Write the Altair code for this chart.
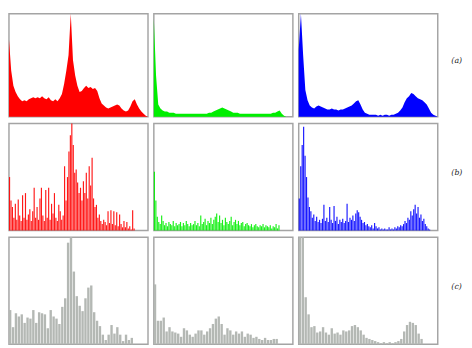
import altair as alt
import pandas as pd

# Row (a): smooth channel histograms (64 bins, % of panel height)
red_a = [75, 45, 30, 24, 20, 17, 15, 16, 15, 17, 18, 19, 18, 19, 18, 20,
         18, 17, 19, 16, 15, 17, 15, 18, 22, 32, 45, 60, 100, 55, 40, 30,
         24, 25, 28, 30, 28, 29, 27, 28, 25, 18, 13, 11, 9, 8, 9, 10,
         11, 12, 11, 8, 6, 5, 6, 10, 15, 17, 12, 8, 5, 3, 1, 0]
green_a = [95, 40, 12, 8, 6, 5, 5, 4, 4, 4, 3, 3, 3, 3, 3, 3,
           3, 3, 3, 3, 3, 3, 3, 3, 3, 4, 4, 5, 6, 7, 8, 9,
           8, 7, 6, 5, 4, 4, 4, 3, 3, 3, 3, 3, 3, 3, 3, 3,
           3, 3, 3, 3, 3, 3, 4, 4, 5, 6, 3, 1, 0, 0, 0, 0]
blue_a = [65, 100, 60, 26, 16, 11, 9, 8, 10, 11, 10, 9, 8, 7, 7, 8,
          7, 7, 6, 7, 7, 8, 9, 10, 11, 13, 15, 16, 12, 7, 4, 3,
          2, 2, 2, 2, 1, 2, 1, 2, 2, 1, 2, 2, 3, 4, 6, 9,
          14, 18, 20, 23, 22, 20, 18, 17, 16, 14, 12, 8, 4, 2, 1, 0]

# Row (b): spiky histograms (96 bins)
red_b = [50, 28, 22, 12, 25, 10, 29, 14, 9, 33,
         12, 35, 10, 15, 20, 9, 18, 40, 12, 22,
         10, 30, 40, 14, 9, 38, 12, 40, 10, 25,
         16, 35, 12, 9, 24, 18, 10, 14, 60, 28,
         50, 74, 89, 100, 80, 54, 57, 45, 35, 40,
         28, 46, 35, 54, 30, 60, 42, 68, 30, 22,
         24, 12, 15, 9, 6, 10, 8, 5, 18, 7,
         19, 6, 18, 5, 17, 4, 15, 6, 3, 9,
         3, 8, 2, 4, 1, 19, 2, 0, 0, 0,
         0, 0, 0, 0, 0, 0]
green_b = [55, 28, 13, 8, 6, 14, 9, 5, 7, 4,
           8, 6, 5, 9, 4, 7, 5, 6, 8, 4,
           7, 5, 9, 6, 4, 7, 5, 6, 9, 5,
           7, 4, 14, 6, 8, 11, 5, 9, 7, 12,
           6, 10, 13, 16, 8, 14, 7, 10, 5, 12,
           8, 6, 9, 13, 5, 8, 10, 6, 9, 5,
           7, 8, 4, 6, 7, 5, 4, 6, 3, 5,
           6, 4, 3, 5, 4, 6, 3, 5, 4, 3,
           5, 2, 4, 3, 6, 2, 5, 0, 0, 0,
           0, 0, 0, 0, 0, 0]
blue_b = [30, 60, 80, 97, 70, 50, 31, 22, 18, 12,
          15, 9, 13, 8, 10, 7, 11, 24, 9, 12,
          8, 22, 10, 7, 23, 9, 13, 6, 10, 8,
          11, 7, 9, 25, 8, 12, 10, 14, 9, 16,
          19, 17, 13, 10, 7, 8, 5, 6, 4, 3,
          5, 2, 7, 4, 2, 3, 1, 2, 1, 2,
          1, 1, 3, 1, 2, 1, 3, 2, 4, 3,
          5, 4, 6, 9, 7, 12, 10, 18, 14, 20,
          24, 16, 22, 12, 15, 9, 11, 6, 4, 2,
          1, 0, 0, 0, 0, 0]

# Row (c): coarse grey histograms (48 bins)
red_c = [32, 16, 29, 26, 28, 20, 25, 24, 32, 20, 30, 29, 28, 15, 32, 26,
         24, 19, 35, 43, 95, 100, 68, 45, 36, 31, 43, 53, 55, 30, 22, 17,
         9, 4, 9, 18, 10, 16, 9, 3, 9, 4, 6, 0, 0, 0, 0, 0]
green_c = [56, 22, 22, 25, 12, 16, 12, 11, 10, 7, 15, 13, 9, 7, 10, 13,
           13, 9, 12, 15, 19, 24, 26, 19, 9, 15, 13, 9, 12, 10, 12, 7,
           10, 9, 6, 7, 5, 4, 6, 4, 4, 5, 5, 0, 0, 0, 0, 0]
blue_c = [100, 100, 44, 28, 16, 17, 11, 12, 16, 11, 9, 15, 10, 11, 9, 13,
          12, 13, 17, 18, 16, 13, 9, 6, 5, 4, 3, 2, 1, 2, 1, 2,
          1, 2, 3, 5, 12, 18, 21, 20, 18, 10, 5, 0, 0, 0, 0, 0]

row_labels = ["(a)", "(b)", "(c)"]
colors = ["#ff0000", "#00ee00", "#0000ff"]
grey = "#b4b8b4"

W = 143
HEIGHTS = [106, 110, 110]


def df(vals):
    return pd.DataFrame({"i": list(range(len(vals))), "v": vals})


def panel_a(vals, color):
    return alt.Chart(df(vals)).mark_area(color=color, interpolate="linear").encode(
        x=alt.X("i:Q", scale=alt.Scale(domain=[0, 63], nice=False, zero=False), axis=None),
        y=alt.Y("v:Q", scale=alt.Scale(domain=[0, 100], nice=False), axis=None),
    ).properties(width=W, height=HEIGHTS[0])


def bars(vals, n, frac, color, h, opacity=1.0):
    return alt.Chart(df(vals)).transform_calculate(
        i2=f"datum.i + {frac}", v0="0"
    ).mark_bar(color=color, opacity=opacity).encode(
        x=alt.X("i:Q", scale=alt.Scale(domain=[0, n], nice=False, zero=False), axis=None),
        x2="i2:Q",
        y=alt.Y("v:Q", scale=alt.Scale(domain=[0, 100], nice=False), axis=None),
        y2="v0:Q",
    ).properties(width=W, height=h)


def panel_b(vals, color):
    return bars(vals, 96, 0.8, color, HEIGHTS[1], 0.9)


def panel_c(vals):
    return bars(vals, 48, 0.82, grey, HEIGHTS[2])


def label(text, h):
    return alt.Chart(pd.DataFrame({"t": [text]})).mark_text(
        font="DejaVu Serif", fontStyle="italic", fontSize=8, color="#222222", align="left"
    ).encode(text="t:N", x=alt.value(W + 14), y=alt.value(h / 2 - 4))


row_a = alt.hconcat(
    panel_a(red_a, colors[0]),
    panel_a(green_a, colors[1]),
    alt.layer(panel_a(blue_a, colors[2]), label(row_labels[0], HEIGHTS[0])),
    spacing=4,
)
row_b = alt.hconcat(
    panel_b(red_b, colors[0]),
    panel_b(green_b, colors[1]),
    alt.layer(panel_b(blue_b, colors[2]), label(row_labels[1], HEIGHTS[1])),
    spacing=4,
)
row_c = alt.hconcat(
    panel_c(red_c),
    panel_c(green_c),
    alt.layer(panel_c(blue_c), label(row_labels[2], HEIGHTS[2])),
    spacing=4,
)

chart = alt.vconcat(row_a, row_b, row_c, spacing=5).properties(
    padding=0, background="white"
).configure_view(stroke="#a4a4a4", strokeWidth=1.5)

chart.save("out.html", embed_options={"renderer": "svg", "actions": False})
